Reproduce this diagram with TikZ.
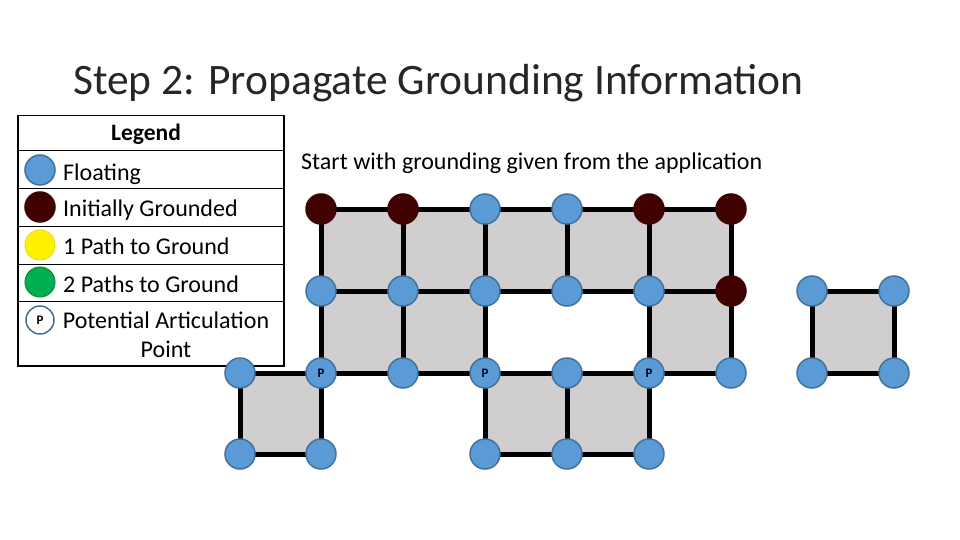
\documentclass[tikz,border=0pt]{standalone}
\usepackage{fontspec}
\setmainfont{Carlito}
\usetikzlibrary{backgrounds}
\definecolor{flt}{HTML}{5B9BD5}
\definecolor{fltb}{HTML}{41719C}
\definecolor{grd}{HTML}{3F0000}
\definecolor{sq}{HTML}{D0CECE}
\definecolor{ttl}{HTML}{262626}
\definecolor{grn}{HTML}{00B050}
\tikzset{
  fnode/.style={circle, minimum size=30pt, inner sep=0pt, fill=flt, draw=fltb, line width=1.5pt},
  gnode/.style={circle, minimum size=30pt, inner sep=0pt, fill=grd, draw=grd, line width=1.5pt},
  pnode/.style={fnode, font=\fontsize{13}{13}\selectfont\bfseries, text=black!85!blue},
  ynode/.style={circle, minimum size=30pt, inner sep=0pt, fill=yellow, draw=yellow!90!black, line width=1pt},
  gnnode/.style={circle, minimum size=30pt, inner sep=0pt, fill=grn, draw=grn!80!black, line width=1pt},
  wnode/.style={circle, minimum size=30pt, inner sep=0pt, fill=white, draw=fltb, line width=1.5pt, font=\fontsize{13}{13}\selectfont\bfseries},
  edge/.style={line width=5pt, black},
  sqfill/.style={fill=sq},
  legtext/.style={anchor=west, font=\fontsize{24}{29}\selectfont, inner sep=0pt},
}
\begin{document}
\begin{tikzpicture}[x=1pt,y=-1pt]
\useasboundingbox (0,0) rectangle (960,540);
% title
\node[anchor=base west, inner sep=0pt, font=\fontsize{43.5}{52}\selectfont, text=ttl] (title) at (73,95) {Step 2: Propagate Grounding Information};
% legend
\node[draw, line width=1.5pt, minimum width=266pt, minimum height=250pt, anchor=north west, inner sep=0pt] (legend) at (17,115) {};
\foreach \yy in {150,188,226,264,301}{\draw[line width=0.8pt] (17,\yy) -- (283,\yy);}
\node[font=\fontsize{23.5}{28}\selectfont\bfseries] (legtitle) at (146,134) {Legend};
\node[fnode] (lf) at (40,170) {};
\node[gnode] (lg) at (40,207) {};
\node[ynode] (ly) at (40,245) {};
\node[gnnode] (lgn) at (40,282) {};
\node[wnode, minimum size=28pt] (lp) at (40,320) {P};
\node[legtext] (tf) at (63,174) {Floating};
\node[legtext] (tg) at (63,210) {Initially Grounded};
\node[legtext] (ty) at (63,246) {1 Path to Ground};
\node[legtext] (tgn) at (63,284) {2 Paths to Ground};
\node[align=center, font=\fontsize{24}{29}\selectfont, inner sep=0pt] (tp) at (166,335) {Potential Articulation\\Point};
% caption
\node[anchor=west, inner sep=0pt, font=\fontsize{24}{29}\selectfont] (cap) at (301,163) {Start with grounding given from the application};
% grid nodes
\node[gnode] (b1) at (321,209) {};
\node[gnode] (c1) at (403,209) {};
\node[fnode] (d1) at (485,209) {};
\node[fnode] (e1) at (567,209) {};
\node[gnode] (f1) at (649,209) {};
\node[gnode] (g1) at (731,209) {};
\node[fnode] (b2) at (321,291) {};
\node[fnode] (c2) at (403,291) {};
\node[fnode] (d2) at (485,291) {};
\node[fnode] (e2) at (567,291) {};
\node[fnode] (f2) at (649,291) {};
\node[gnode] (g2) at (731,291) {};
\node[fnode] (h2) at (812,291) {};
\node[fnode] (i2) at (894,291) {};
\node[fnode] (a3) at (240,373) {};
\node[pnode] (b3) at (321,373) {P};
\node[fnode] (c3) at (403,373) {};
\node[pnode] (d3) at (485,373) {P};
\node[fnode] (e3) at (567,373) {};
\node[pnode] (f3) at (649,373) {P};
\node[fnode] (g3) at (731,373) {};
\node[fnode] (h3) at (812,373) {};
\node[fnode] (i3) at (894,373) {};
\node[fnode] (a4) at (240,454) {};
\node[fnode] (b4) at (321,454) {};
\node[fnode] (d4) at (485,454) {};
\node[fnode] (e4) at (567,454) {};
\node[fnode] (f4) at (649,454) {};
\begin{pgfonlayer}{background}
\foreach \p/\q in {b1/c2,c1/d2,d1/e2,e1/f2,f1/g2,b2/c3,c2/d3,f2/g3,h2/i3,a3/b4,d3/e4,e3/f4}
  {\fill[sqfill] (\p.center) rectangle (\q.center);}
\foreach \p/\q in {b1/c1,c1/d1,d1/e1,e1/f1,f1/g1,
                   b2/c2,c2/d2,d2/e2,e2/f2,f2/g2,h2/i2,
                   a3/b3,b3/c3,c3/d3,d3/e3,e3/f3,f3/g3,h3/i3,
                   a4/b4,d4/e4,e4/f4,
                   b1/b2,b2/b3,b3/b4,c1/c2,c2/c3,d1/d2,d2/d3,d3/d4,
                   e1/e2,e3/e4,f1/f2,f2/f3,f3/f4,g1/g2,g2/g3,a3/a4,h2/h3,i2/i3}
  {\draw[edge] (\p.center) -- (\q.center);}
\end{pgfonlayer}
\end{tikzpicture}
\end{document}
